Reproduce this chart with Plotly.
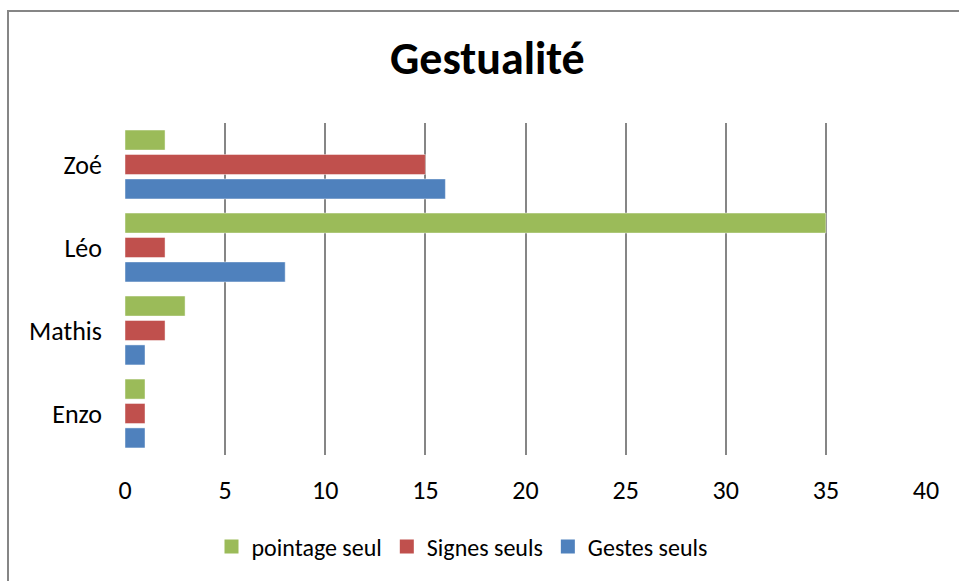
import plotly.graph_objects as go

# Children (bottom to top on the category axis)
children = ["Enzo", "Mathis", "Léo", "Zoé"]

# Counts per gesture type for each child
gestes_seuls = [1, 1, 8, 16]
signes_seuls = [1, 2, 2, 15]
pointage_seul = [1, 3, 35, 2]

x_ticks = [0, 5, 10, 15, 20, 25, 30, 35, 40]

FONT = "Calibri, Carlito, Lato, sans-serif"
GRID = "#868686"

fig = go.Figure()
series = [
    ("Gestes seuls", gestes_seuls, "#4F81BD"),
    ("Signes seuls", signes_seuls, "#C0504D"),
    ("pointage seul", pointage_seul, "#9BBB59"),
]
for name, vals, color in series:
    fig.add_trace(go.Bar(
        y=children, x=vals, name=name, orientation="h", showlegend=False,
        legendgroup=name,
        marker=dict(color=color, line=dict(color="rgba(255,255,255,0.45)", width=1)),
    ))

# legend keys: square swatches, listed green / red / blue
for name, _, color in reversed(series):
    fig.add_trace(go.Scatter(
        x=[None], y=[None], mode="markers", name=name, legendgroup=name,
        marker=dict(symbol="square", size=14, color=color),
    ))

fig.update_layout(
    width=959, height=581,
    margin=dict(l=125, r=33, t=123, b=126),
    paper_bgcolor="white", plot_bgcolor="white",
    barmode="group", bargap=0.117, bargroupgap=0.18,
    font=dict(family=FONT, size=24, color="black"),
    showlegend=True,
    legend=dict(
        orientation="h", traceorder="normal",
        x=(462 - 125) / 801, xanchor="center", y=-0.277, yanchor="middle",
        font=dict(family=FONT, size=24, color="black"),
        bgcolor="rgba(0,0,0,0)", itemwidth=30,
    ),
    xaxis=dict(
        range=[0, 40], tickvals=x_ticks, ticktext=[str(t) for t in x_ticks],
        showgrid=True, gridcolor=GRID, gridwidth=2,
        zeroline=False, showline=False, ticks="",
        ticklabelstandoff=17,
        tickfont=dict(family=FONT, size=26, color="black"),
    ),
    yaxis=dict(
        categoryorder="array", categoryarray=children,
        showgrid=False, zeroline=False, showline=False, ticks="",
        ticklabelstandoff=22,
        tickfont=dict(family=FONT, size=26, color="black"),
    ),
    annotations=[dict(
        text="<b>Gestualité</b>", xref="paper", yref="paper",
        x=(487.5 - 125) / 801, y=(455 - 58) / 332,
        xanchor="center", yanchor="middle", showarrow=False,
        font=dict(family=FONT, size=46, color="black"),
    )],
    shapes=[
        # outer chart frame
        dict(type="rect", xref="paper", yref="paper",
             x0=(8 - 125) / 801, x1=(965 - 125) / 801,
             y0=(455 - 590) / 332, y1=(455 - 11) / 332,
             line=dict(color=GRID, width=2), fillcolor="rgba(0,0,0,0)", layer="below"),
    ],
)

fig.write_html("out.html")
